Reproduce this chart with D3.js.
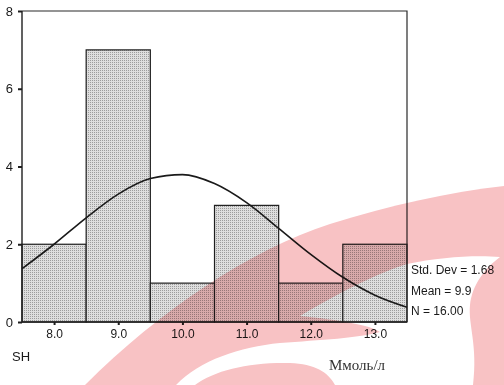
<!DOCTYPE html>
<html lang="en">
    <head>
        <meta charset="utf-8">
        <title>SH histogram</title>
        <script src="https://d3js.org/d3.v7.min.js"></script>
        <style type="text/css">
          body { margin: 0; background: #ffffff; }
          svg { display: block; }
          .wm { mix-blend-mode: multiply; }
        </style>
    </head>
    <body>
        <script type="text/javascript">
            // histogram bins (lower edge, upper edge) and counts
            var binStart = [7.5, 8.5, 9.5, 10.5, 11.5, 12.5];
            var binEnd   = [8.5, 9.5, 10.5, 11.5, 12.5, 13.5];
            var counts   = [2, 7, 1, 3, 1, 2];

            // fitted normal curve
            var curveX = [7.5, 8, 8.5, 9, 9.5, 10, 10.5, 11, 11.5, 12, 12.5, 13, 13.5];
            var curveY = [1.37, 2.0, 2.68, 3.29, 3.69, 3.79, 3.56, 3.07, 2.41, 1.74, 1.15, 0.69, 0.38];

            var xTicks = [8, 9, 10, 11, 12, 13];
            var yTicks = [0, 2, 4, 6, 8];
            var stats = ["Std. Dev = 1.68", "Mean = 9.9", "N = 16.00"];

            var w = 504, h = 385;
            var margin = {top: 11, right: 97, bottom: 63, left: 22};

            var svg = d3.select("body").append("svg")
                        .attr("width", w)
                        .attr("height", h);

            // stipple fill of the bars
            var pat = svg.append("defs").append("pattern")
                         .attr("id", "dots")
                         .attr("width", 2).attr("height", 2)
                         .attr("patternUnits", "userSpaceOnUse");
            pat.append("rect").attr("width", 2).attr("height", 2).attr("fill", "#dedede");
            pat.append("rect").attr("width", 1).attr("height", 1).attr("fill", "#9c9c9c");

            var xScale = d3.scaleLinear().domain([7.5, 13.5]).range([margin.left, w - margin.right]);
            var yScale = d3.scaleLinear().domain([0, 8]).range([h - margin.bottom, margin.top]);

            // bars
            svg.selectAll("rect.bar")
               .data(counts)
               .enter()
               .append("rect")
               .attr("class", "bar")
               .attr("x", function(d, i) { return xScale(binStart[i]); })
               .attr("y", function(d) { return yScale(d); })
               .attr("width", function(d, i) { return xScale(binEnd[i]) - xScale(binStart[i]); })
               .attr("height", function(d) { return yScale(0) - yScale(d); })
               .attr("fill", "url(#dots)")
               .attr("stroke", "#1e1e1e")
               .attr("stroke-width", 1.2);

            // frame top and right
            svg.append("path")
               .attr("d", "M" + xScale(7.5) + "," + yScale(8) + "H" + xScale(13.5) + "V" + yScale(0))
               .attr("fill", "none")
               .attr("stroke", "#2a2a2a")
               .attr("stroke-width", 1.2);

            // axes
            var yAxis = d3.axisLeft(yScale).tickValues(yTicks).tickSize(4).tickPadding(5)
                          .tickFormat(d3.format("d"));
            var gy = svg.append("g")
                        .attr("transform", "translate(" + xScale(7.5) + ",0)")
                        .call(yAxis);

            var xAxis = d3.axisBottom(xScale).tickValues(xTicks).tickSize(3).tickPadding(4)
                          .tickFormat(d3.format(".1f"));
            var gx = svg.append("g")
                        .attr("transform", "translate(0," + yScale(0) + ")")
                        .call(xAxis);

            [gx, gy].forEach(function(g) {
                g.select(".domain").attr("stroke", "#1e1e1e").attr("stroke-width", 1.4);
                g.selectAll(".tick line").attr("stroke", "#1e1e1e").attr("stroke-width", 2);
                g.selectAll(".tick text")
                 .attr("fill", "#1a1a1a")
                 .style("font-family", "Liberation Sans, Arial, sans-serif")
                 .style("font-size", "12px");
            });
            gy.selectAll(".tick text").style("font-size", "13px");
            gx.select(".domain").attr("d", "M" + xScale(7.5) + ",0H" + xScale(13.5));
            gy.select(".domain").attr("d", "M0," + yScale(0) + "V" + yScale(8));

            // normal curve
            var line = d3.line()
                         .x(function(d, i) { return xScale(curveX[i]); })
                         .y(function(d) { return yScale(d); })
                         .curve(d3.curveMonotoneX);
            svg.append("path")
               .datum(curveY)
               .attr("d", line)
               .attr("fill", "none")
               .attr("stroke", "#1a1a1a")
               .attr("stroke-width", 1.6);

            // stats text
            svg.selectAll("text.stat")
               .data(stats)
               .enter()
               .append("text")
               .attr("class", "stat")
               .attr("x", xScale(13.5) + 4)
               .attr("y", function(d, i) { return 274 + i * 20.5; })
               .style("font-family", "Liberation Sans, Arial, sans-serif")
               .style("font-size", "12px")
               .attr("fill", "#1a1a1a")
               .text(function(d) { return d; });

            // labels
            svg.append("text")
               .attr("x", 12).attr("y", 361)
               .style("font-family", "Liberation Sans, Arial, sans-serif")
               .style("font-size", "13px")
               .attr("fill", "#1a1a1a")
               .text("SH");

            svg.append("text")
               .attr("x", 357).attr("y", 370)
               .attr("text-anchor", "middle")
               .style("font-family", "Liberation Serif, serif")
               .style("font-size", "15px")
               .attr("fill", "#333")
               .text("Ммоль/л");

            // pink watermark of the scan
            var wm = svg.append("g").attr("class", "wm");
            wm.append("path")
              .attr("fill", "#f8c2c4")
              .attr("d", "M85,385 C160,310 250,250 330,224 C390,205 450,192 504,186 L504,385 Z");
            wm.append("path")   // white tongue and lower gap
              .attr("fill", "#ffffff")
              .attr("d", "M300,316 C340,292 380,272 407,264 C440,257 475,255 500,257 " +
                         "C485,268 472,285 470,305 C468,325 478,345 473,385 L335,385 " +
                         "C328,372 315,364 290,363 C250,362 215,370 195,385 L176,385 " +
                         "C200,360 240,347 280,343 C320,340 360,338 380,332 C370,325 340,320 300,316 Z");
        </script>
    </body>
</html>
